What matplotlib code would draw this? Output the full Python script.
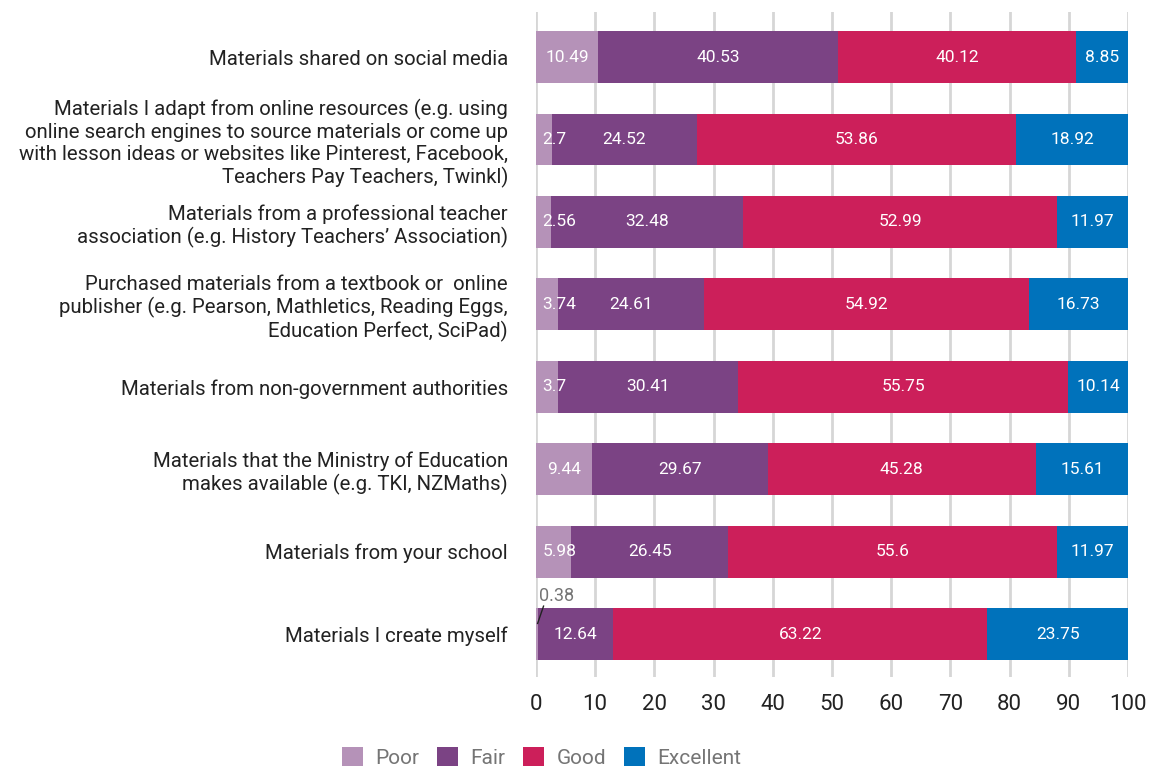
import matplotlib
matplotlib.use("Agg")
import matplotlib.pyplot as plt
from matplotlib.patches import Patch
import numpy as np

plt.rcParams['font.family'] = ['Roboto', 'DejaVu Sans']

categories = [
    "Materials shared on social media",
    "Materials I adapt from online resources (e.g. using\nonline search engines to source materials or come up\nwith lesson ideas or websites like Pinterest, Facebook,\nTeachers Pay Teachers, Twinkl)",
    "Materials from a professional teacher\nassociation (e.g. History Teachers\u2019 Association)",
    "Purchased materials from a textbook or  online\npublisher (e.g. Pearson, Mathletics, Reading Eggs,\nEducation Perfect, SciPad)",
    "Materials from non-government authorities",
    "Materials that the Ministry of Education\nmakes available (e.g. TKI, NZMaths)",
    "Materials from your school",
    "Materials I create myself",
]

series_names = ["Poor", "Fair", "Good", "Excellent"]
poor = [10.49, 2.7, 2.56, 3.74, 3.7, 9.44, 5.98, 0.38]
fair = [40.53, 24.52, 32.48, 24.61, 30.41, 29.67, 26.45, 12.64]
good = [40.12, 53.86, 52.99, 54.92, 55.75, 45.28, 55.6, 63.22]
excellent = [8.85, 18.92, 11.97, 16.73, 10.14, 15.61, 11.97, 23.75]
x_ticks = [0, 10, 20, 30, 40, 50, 60, 70, 80, 90, 100]

colors = ["#b592b8", "#7b4384", "#cc1f5a", "#0072bb"]

fig = plt.figure(figsize=(11.5, 7.67), dpi=100)
ax = fig.add_axes([0.466, 0.1173, 0.515, 0.8670])

y = np.arange(len(categories))
left = np.zeros(len(categories))
bar_h = 0.63
for name, vals, col in zip(series_names, [poor, fair, good, excellent], colors):
    vals = np.array(vals)
    ax.barh(y, vals, left=left, height=bar_h, color=col, zorder=2, label=name)
    for i, (v, l) in enumerate(zip(vals, left)):
        txt = f"{v:g}"
        if v < 1:
            # tiny segment: label above the bar with a short leader line
            cx = l + v / 2
            ax.plot([cx + 0.1, cx + 1.1], [y[i] - 0.13, y[i] - 0.34],
                    color="#222222", lw=1, zorder=4, clip_on=False)
            ax.text(l + 0.6, y[i] - 0.46, txt, ha="left", va="center",
                    fontsize=13, color="#757575")
        elif v < 7:
            ax.text(l + 1.15, y[i], txt, ha="left", va="center",
                    fontsize=12.5, color="white", zorder=3)
        else:
            ax.text(l + v / 2, y[i], txt, ha="center", va="center",
                    fontsize=12.5, color="white", zorder=3)
    left = left + vals

ax.set_xlim(0, 100)
ax.set_ylim(7.52, -0.546)
ax.set_xticks(x_ticks)
ax.set_xticklabels([str(t) for t in x_ticks], fontsize=16, color="#222222")
ax.set_yticks(y)
ax.set_yticklabels(categories, fontsize=14.7, color="#222222", ha="right",
                   multialignment="right")
ax.tick_params(axis="y", length=0, pad=20)
ax.tick_params(axis="x", length=0, pad=12)
for s in ax.spines.values():
    s.set_visible(False)
ax.xaxis.grid(True, color="#d6d6d6", lw=2, zorder=0)
ax.set_axisbelow(True)

handles = [Patch(facecolor=c, label=n) for n, c in zip(series_names, colors)]
fig.legend(handles=handles, loc="center", bbox_to_anchor=(0.471, 0.0125),
           ncol=4, frameon=False, fontsize=15, labelcolor="#757575",
           handlelength=1.0, handleheight=1.0, handletextpad=0.6,
           columnspacing=0.85)

fig.savefig("out.png", dpi=100)
